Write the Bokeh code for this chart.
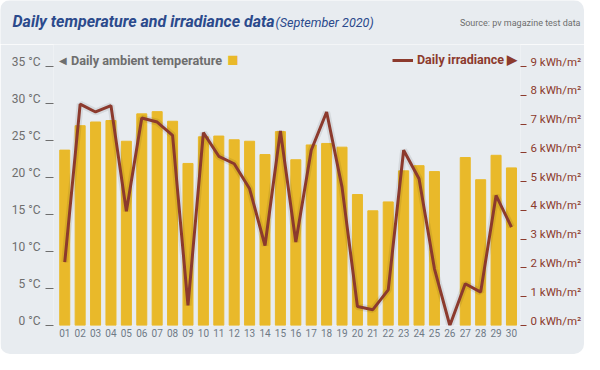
from bokeh.plotting import figure
from bokeh.models import (Range1d, LinearAxis, FixedTicker, Label, ColumnDataSource,
                          Legend, LegendItem, Plot, Div)
from bokeh.layouts import column
from bokeh.embed import file_html
from bokeh.resources import INLINE

# ---------------- data ----------------
days = list(range(1, 31))
day_labels = [f"{d:02d}" for d in days]
temperature = [23.7, 27.0, 27.5, 27.7, 24.9, 28.6, 28.9, 27.6, 21.9, 25.5,
               25.6, 25.1, 24.9, 23.1, 26.2, 22.4, 24.4, 24.6, 24.1, 17.7,
               15.5, 16.7, 20.9, 21.6, 20.8, float("nan"), 22.7, 19.7, 23.0, 21.3]
irradiance = [2.20, 7.69, 7.42, 7.64, 3.97, 7.21, 7.07, 6.61, 0.70, 6.70,
              5.88, 5.62, 4.75, 2.78, 6.76, 2.90, 6.09, 7.42, 4.81, 0.66,
              0.55, 1.24, 6.09, 5.10, 1.97, 0.00, 1.45, 1.16, 4.52, 3.42]
temp_ticks = [0, 5, 10, 15, 20, 25, 30, 35]
irr_ticks = [0, 1, 2, 3, 4, 5, 6, 7, 8, 9]
temp_tick_labels = [f"{t} °C" for t in temp_ticks]
irr_tick_labels = [f"{t} kWh/m²" for t in irr_ticks]

title_text = "Daily temperature and irradiance data"
subtitle_text = "(September 2020)"
source_text = "Source: pv magazine test data"
temp_legend = "Daily ambient temperature"
irr_legend = "Daily irradiance ▶"

# ---------------- style ----------------
BG = "#e8ecf0"
BAR = "#e9b92a"
LINE = "#8c3a2d"
BLUE = "#2b4a8c"
GRAY = "#6e6e6e"
XGRAY = "#6f7a86"
FONT = "Roboto"

W = 584
HEAD_H = 44          # header strip height (px)
CHART_H = 354 - HEAD_H

# chart frame geometry in page px
FRAME_L, FRAME_R, FRAME_B = 53, 522, 325
Y35 = 66             # pixel row of 35 °C / 9 kWh
X_PX = 15.47
Y_PX = (FRAME_B - Y35) / 35.0
x_start = 1 - (64.3 - FRAME_L) / X_PX
x_end = x_start + (FRAME_R - FRAME_L) / X_PX
y_top = (FRAME_B - HEAD_H) / Y_PX
IRR_PX = Y_PX * 35 / 9
LBL_SHIFT_L = 4.5    # tick labels sit a little above their tick dash
LBL_SHIFT_R = 5.0


def dx(px):
    return x_start + (px - FRAME_L) / X_PX


def dy(py):
    return (FRAME_B - py) / Y_PX


# header rows: (text, x, y, size, style, colour, align)
header_items = [
    (title_text, 12, 21, 16, "bold italic", BLUE, "left"),
    (subtitle_text, 275, 21.5, 12.6, "italic", BLUE, "left"),
    (source_text, 580, 22, 9, "normal", GRAY, "right"),
]

HAS_FRAME_ALIGN = "frame_align" in Plot.properties()

if HAS_FRAME_ALIGN:
    head = figure(width=W, height=HEAD_H, output_backend="svg", toolbar_location=None,
                  x_range=Range1d(0, W), y_range=Range1d(HEAD_H, 0),
                  x_axis_location=None, y_axis_location=None,
                  min_border=0, background_fill_color=BG, border_fill_color=BG,
                  outline_line_color=None)
    head.frame_align = False
    head.grid.visible = False
    for text, x, y, size, style, color, align in header_items:
        head.add_layout(Label(x=x, y=y, text=text, text_font=FONT,
                              text_font_size=f"{size}px", text_font_style=style,
                              text_color=color, text_align=align,
                              text_baseline="middle"))
else:
    spans = []
    for text, x, y, size, style, color, align in header_items:
        weight = "bold" if "bold" in style else "normal"
        fstyle = "italic" if "italic" in style else "normal"
        pos = f"left:{x}px;" if align == "left" else f"right:{W - x}px;"
        spans.append(
            f'<span style="position:absolute;{pos}top:{y - size * 0.6:.1f}px;'
            f'font-family:{FONT};font-size:{size}px;font-weight:{weight};'
            f'font-style:{fstyle};color:{color};white-space:nowrap;line-height:1.2">'
            f'{text}</span>')
    head = Div(text=f'<div style="position:relative;width:{W}px;height:{HEAD_H}px;'
                    f'background:{BG}">' + "".join(spans) + "</div>",
               width=W, height=HEAD_H, margin=0)

# ---------------- chart ----------------
p = figure(width=W, height=CHART_H, output_backend="svg", toolbar_location=None,
           x_range=Range1d(x_start, x_end), y_range=Range1d(0, y_top),
           min_border_left=FRAME_L, min_border_right=W - FRAME_R,
           min_border_top=0, min_border_bottom=CHART_H - (FRAME_B - HEAD_H),
           background_fill_color=BG, border_fill_color=BG, outline_line_color=None)
if HAS_FRAME_ALIGN:
    p.frame_align = False
p.extra_y_ranges = {
    "irr": Range1d(0, y_top * 9 / 35),
    "temp_lbl": Range1d(-LBL_SHIFT_L / Y_PX, y_top - LBL_SHIFT_L / Y_PX),
    "irr_lbl": Range1d(-LBL_SHIFT_R / IRR_PX, y_top * 9 / 35 - LBL_SHIFT_R / IRR_PX),
}
p.grid.visible = False

src = ColumnDataSource(dict(day=days, temp=temperature, irr=irradiance))
p.vbar(x="day", top="temp", width=0.65, color=BAR, source=src)
p.line(x="day", y="irr", y_range_name="irr", source=src, line_color="#000000",
       line_alpha=0.08, line_width=7)
irr_line = p.line(x="day", y="irr", y_range_name="irr", source=src, line_color=LINE,
                  line_width=3)


def style_axis(ax, ticks, labels, tick_color, label_color, tick_out, standoff, size, show_labels):
    ax.ticker = FixedTicker(ticks=ticks)
    ax.axis_line_color = None
    ax.minor_tick_line_color = None
    ax.minor_tick_out = 0
    ax.major_tick_in = 0
    ax.major_tick_out = tick_out
    ax.major_tick_line_color = tick_color if tick_out else None
    ax.major_label_standoff = standoff
    ax.major_label_text_font = FONT
    ax.major_label_text_font_size = size
    ax.major_label_text_color = label_color
    if show_labels:
        ax.major_label_overrides = {t: s for t, s in zip(ticks, labels)}
    else:
        ax.major_label_overrides = {t: "" for t in ticks}


# left: dashes at the values, labels just above them
la = p.yaxis[0]
style_axis(la, temp_ticks, temp_tick_labels, GRAY, GRAY, 8, 0, "12px", False)
la_lbl = LinearAxis(y_range_name="temp_lbl")
style_axis(la_lbl, temp_ticks, temp_tick_labels, GRAY, GRAY, 0, 5, "12px", True)
p.add_layout(la_lbl, "left")

# right
ra = LinearAxis(y_range_name="irr")
style_axis(ra, irr_ticks, irr_tick_labels, LINE, LINE, 6, 0, "11.5px", False)
p.add_layout(ra, "right")
ra_lbl = LinearAxis(y_range_name="irr_lbl")
style_axis(ra_lbl, irr_ticks, irr_tick_labels, LINE, LINE, 0, 4, "11.5px", True)
p.add_layout(ra_lbl, "right")

# x axis
xa = p.xaxis[0]
style_axis(xa, days, day_labels, None, XGRAY, 0, 3, "10px", True)


def lab(text, x, y, **kw):
    opts = dict(text_font=FONT, text_baseline="middle", text_align="left")
    opts.update(kw)
    p.add_layout(Label(x=dx(x), y=dy(y), text=text, **opts))


lab("◀", 59, 60, text_font_size="10px", text_color=GRAY)
lab(temp_legend, 70.5, 60, text_font_size="12.7px", text_font_style="bold", text_color=GRAY)
lab("■", 227.5, 58.5, text_font_size="19px", text_color=BAR)

leg = Legend(items=[LegendItem(label=irr_legend, renderers=[irr_line])],
             location=(392 - FRAME_L, FRAME_B - 67), orientation="horizontal",
             padding=0, margin=0, spacing=0, border_line_color=None,
             background_fill_alpha=0, glyph_width=21, glyph_height=14,
             label_height=14, label_standoff=4, label_text_font=FONT,
             label_text_font_size="12.5px", label_text_font_style="bold",
             label_text_color=LINE)
p.add_layout(leg)

layout = column(head, p, spacing=0)
try:
    layout.styles = {"border-radius": "10px", "overflow": "hidden"}
except Exception:
    pass
open("out.html", "w").write(file_html(layout, INLINE))
